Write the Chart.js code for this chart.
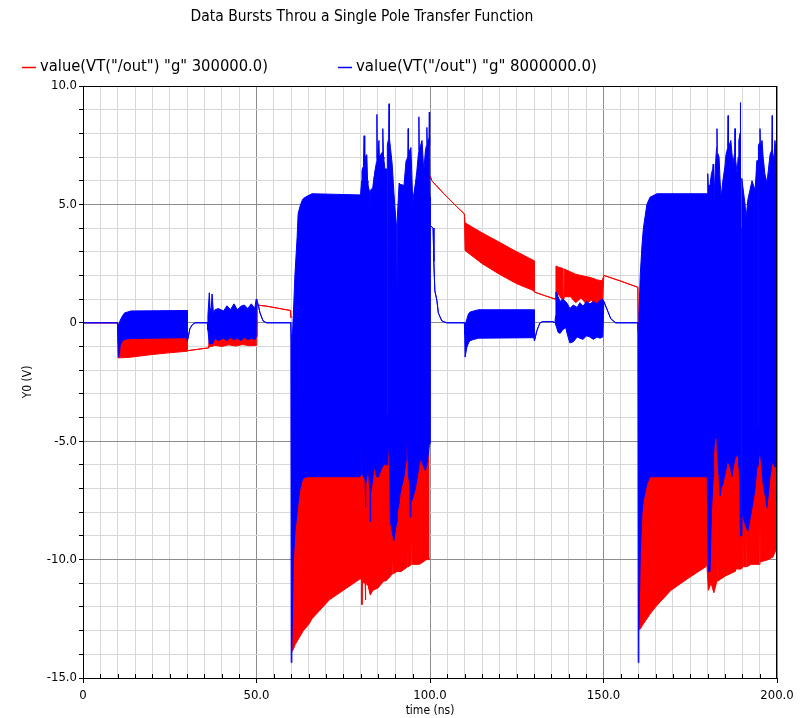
<!DOCTYPE html>
<html><head><meta charset="utf-8">
<script src="https://cdn.jsdelivr.net/npm/chart.js@4.4.1/dist/chart.umd.min.js"></script>
<style>html,body{margin:0;padding:0;background:#fff;}canvas{display:block;}</style>
</head><body>
<canvas id="c" width="806" height="718"></canvas>
<script>
const chartTitle = 'Data Bursts Throu a Single Pole Transfer Function';
const redLabel = 'value(VT("/out") "g" 300000.0)';
const blueLabel = 'value(VT("/out") "g" 8000000.0)';
const xTitle = 'time (ns)';
const yTitle = 'Y0 (V)';
const xTicks = [0, 50, 100, 150, 200];
const xTickLabels = ['0', '50.0', '100.0', '150.0', '200.0'];
const yTicks = [10, 5, 0, -5, -10, -15];
const yTickLabels = ['10.0', '5.0', '0', '-5.0', '-10.0', '-15.0'];

// 8 MHz pole trace: time (ns), upper and lower envelope (V) of the dense oscillation
const blueTime = [
 0, 9.9, 10.0, 10.2, 10.5, 10.7, 11.4, 12.0, 12.9, 13.8, 30.0,
 30.1, 30.4, 30.8, 31.5, 32.3, 35.8,
 36.0, 36.4, 36.6, 36.75, 36.9, 37.2, 37.6, 38.0, 39.0, 40.5, 41.5, 42.5, 43.5, 44.5, 45.5, 46.5, 47.5, 48.5, 49.5, 49.9,
 50.1, 50.6, 51.0, 51.9, 52.9, 59.9,
 60.0, 60.2, 60.6, 61.1, 61.7, 62.0, 62.5, 63.1, 63.5, 64.6, 66.0, 79.8,
 80.0, 80.3, 80.4, 80.5, 80.8, 81.0, 81.2, 81.3, 81.4, 81.5, 81.8, 82.0, 82.1, 82.2, 82.6, 82.7, 82.8, 82.9, 83.5, 83.9, 84.0, 84.6, 84.7, 84.8, 85.3, 85.4, 86.2, 86.4, 86.6, 86.7, 87.0, 87.4, 87.45, 87.65, 87.7, 88.1, 88.2, 88.3, 88.6, 89.1, 89.6, 89.9, 90.4, 90.5, 90.6, 91.1, 91.4, 92.5, 93.1, 93.3, 93.6, 93.7, 93.8, 94.2, 94.3, 94.5, 95.0, 95.1, 95.2, 95.8, 96.2, 96.7, 96.8, 96.9, 97.3, 97.7, 98.2, 98.7, 99.0, 99.1, 99.2, 99.7, 99.8, 99.9, 100.0,
 100.1, 100.9, 101.1, 101.4, 102.0, 102.4, 103.4, 104.8, 109.9,
 110.0, 110.1, 110.6, 111.1, 111.5, 112.6, 114.0, 130.0,
 130.1, 130.8, 131.7, 132.5, 135.4, 136.0,
 136.2, 136.3, 136.9, 137.5, 138.2, 139.1, 139.6, 140.3, 141.3, 142.4, 143.2, 144.1, 145.1, 146.1, 147.1, 148.1, 149.0, 149.8,
 150.1, 151.2, 152.1, 153.5, 159.9,
 160.0, 160.2, 160.6, 161.1, 161.5, 162.5, 163.4, 165.4, 179.9,
 180.0, 180.1, 180.2, 180.7, 181.1, 181.5, 181.6, 181.7, 181.8, 181.9, 182.4, 182.6, 182.7, 182.8, 183.3, 183.6, 183.9, 184.4, 185.0, 185.3, 185.8, 185.9, 186.0, 186.7, 187.0, 187.3, 187.8, 187.9, 188.0, 188.5, 188.8, 189.0, 189.35, 189.45, 189.5, 189.8, 189.85, 190.8, 191.1, 191.6, 192.8, 193.7, 194.2, 194.35, 194.4, 194.6, 194.65, 195.0, 195.1, 195.2, 195.7, 196.0, 196.5, 197.1, 198.0, 198.5, 198.6, 198.7, 199.1, 199.4, 200.0
];
const blueHigh = [
 0, 0, 0, -0.1, 0.0, 0.1, 0.3, 0.42, 0.46, 0.5, 0.52,
 -0.75, -0.55, -0.25, -0.08, 0, 0,
 0.3, 1.27, 0.6, -0.2, 0.5, 1.22, 0.38, 0.55, 0.6, 0.5, 0.72, 0.55, 0.8, 0.55, 0.7, 0.75, 0.6, 0.8, 0.6, 1.0,
 0.95, 0.7, 0.42, 0.08, 0, 0,
 -0.5, -1.0, 0.3, 2.1, 3.6, 4.6, 4.9, 5.15, 5.25, 5.35, 5.45, 5.4,
 5.45, 6.0, 6.4, 6.5, 6.6, 7.9, 6.8, 6.9, 7.0, 7.05, 7.1, 6.0, 5.9, 5.8, 5.5, 4.7, 5.6, 5.6, 5.7, 6.2, 6.3, 6.8, 8.8, 7.0, 7.7, 7.0, 7.2, 8.2, 7.0, 6.9, 6.5, 6.5, -3.85, -3.85, 7.5, 7.8, 9.25, 7.8, 7.4, 6.7, 5.5, 4.85, 4.0, 1.65, 4.5, 5.9, 5.85, 5.8, 6.85, 6.9, 7.0, 8.2, 7.2, 7.3, 7.35, 7.4, 5.2, 4.7, 5.3, 5.9, 6.4, 7.2, 8.7, 7.3, 7.5, 7.7, 6.4, 7.3, 7.5, 8.25, 7.6, 7.8, 8.9, 7.5, 5.3,
 4.1, 4.0, 2.6, 1.35, 0.93, 0.42, 0.08, 0, 0,
 0, -0.1, 0.15, 0.38, 0.45, 0.5, 0.55, 0.55,
 -0.76, -0.33, 0.0, 0.05, 0.05, 0,
 0.3, 1.3, 1.1, 0.9, 1.0, 0.9, 0.8, 0.6, 0.75, 0.65, 0.85, 0.7, 0.9, 0.8, 0.9, 0.8, 0.95, 1.0,
 0.9, 0.5, 0.17, 0, 0,
 -0.45, 0.3, 2.05, 3.3, 4.0, 5.0, 5.3, 5.45, 5.45,
 5.5, 6.3, 5.8, 5.8, 6.3, 6.5, 6.7, 5.5, 4.2, 5.5, 7.0, 7.4, 8.2, 7.2, 7.0, 6.0, 5.3, 6.0, 6.6, 7.1, 7.4, 8.75, 7.4, 7.7, 7.2, 6.7, 7.2, 8.2, 7.0, 6.3, 7.0, 7.7, 8.0, 9.3, -8.8, -8.8, 6.1, 5.0, 4.4, 5.2, 6.0, 5.6, 6.85, 6.85, -4.3, -4.3, 7.5, 7.6, 8.2, 7.5, 7.7, 7.0, 6.3, 5.9, 7.1, 7.3, 8.75, 7.2, 6.9, 7.7, 7.0
];
const blueLow = [
 0, 0, -0.3, -1.45, -1.3, -0.95, -0.75, -0.7, -0.68, -0.66, -0.63,
 -0.75, -0.55, -0.25, -0.08, 0, 0,
 -0.3, -0.9, -0.85, -0.9, -0.85, -0.9, -0.8, -0.65, -0.75, -0.65, -0.75, -0.62, -0.72, -0.65, -0.75, -0.62, -0.72, -0.65, -0.7, -0.6,
 0.95, 0.7, 0.42, 0.08, 0, 0,
 -14.35, -13.6, -10.1, -8.8, -8.0, -7.6, -7.05, -6.7, -6.55, -6.5, -6.5, -6.5,
 -6.46, -6.3, -5.1, -6.4, -6.5, -6.5, -6.6, -6.6, -7.8, -6.8, -6.5, -6.4, -6.4, -6.1, -6.9, -7.0, -8.4, -7.2, -6.6, -6.0, -6.1, -6.5, -6.5, -6.5, -6.5, -6.4, -6.1, -6.0, -6.0, -5.7, -6.0, -6.0, -6.0, -6.0, -5.8, -5.2, -5.0, -6.0, -8.4, -8.8, -9.2, -8.9, -8.4, -8.4, -8.0, -7.6, -7.2, -6.5, -5.8, -4.8, -5.6, -5.8, -6.5, -6.8, -8.2, -7.6, -7.4, -7.4, -7.3, -7.0, -6.6, -6.2, -6.0, -6.0, -5.7, -5.9, -6.1, -6.25, -6.0, -5.8, -5.9, -5.3, -5.1, -5.1, -5.1,
 4.1, 4.0, 2.6, 1.35, 0.93, 0.42, 0.08, 0, 0,
 -0.5, -1.45, -1.05, -0.85, -0.76, -0.7, -0.65, -0.63,
 -0.76, -0.33, 0.0, 0.05, 0.05, 0,
 0, -0.1, -0.4, -0.45, -0.3, -0.2, -0.5, -0.85, -0.8, -0.6, -0.65, -0.7, -0.55, -0.6, -0.7, -0.6, -0.65, -0.6,
 0.9, 0.5, 0.17, 0, 0,
 -14.35, -13.0, -9.7, -8.0, -7.5, -6.8, -6.5, -6.5, -6.5,
 -7.5, -9.0, -10.5, -10.5, -8.0, -6.8, -6.5, -6.0, -5.5, -5.2, -4.7, -4.8, -4.9, -5.5, -6.5, -7.3, -7.0, -6.8, -6.4, -6.2, -5.8, -5.8, -5.9, -6.2, -6.5, -6.2, -5.8, -5.7, -5.7, -5.6, -5.5, -6.0, -6.8, -7.0, -9.0, -9.0, -8.0, -8.5, -8.6, -8.8, -7.8, -7.0, -6.1, -6.1, -6.1, -6.0, -5.8, -5.5, -5.3, -5.5, -6.2, -6.8, -7.2, -7.8, -6.5, -6.0, -5.8, -5.9, -6.0, -6.1, -6.0
];

// 300 kHz pole trace: time (ns), upper and lower envelope (V); null = break in the trace
const redTime = [
 0, 10.0,
 10.1, 10.7, 12.0, 13.8, 19.3, 24.0, 30.0,
 30.1, 33.0, 36.2,
 36.4, 36.75, 37.2, 37.6, 38.0, 40.0, 42.0, 44.0, 46.0, 48.0, 49.9,
 50.1, 53.0, 56.0, 59.8, 59.95,
 60.0,
 60.1, 60.6, 61.1, 61.7, 62.3, 63.5, 65.0, 66.0, 71.0, 76.0,
 80.0, 80.3, 80.4, 80.5, 81.3, 81.4, 81.5, 82.1, 82.2, 82.3, 82.8, 83.5, 85.0, 86.7, 87.1, 87.2, 87.3, 88.0, 89.2, 89.3, 89.4, 90.5, 91.7, 93.6, 93.7, 93.8, 94.7, 94.8, 94.9, 97.0, 99.0, 99.5, 99.6, 99.7, 99.9,
 100.0,
 100.1, 100.5, 104.0, 108.0, 109.9,
 110.1, 115.0, 120.0, 125.0, 130.0,
 130.1, 133.0, 136.1,
 136.3, 137.0, 138.2, 138.3, 138.6, 138.7, 140.5, 142.0, 143.5, 145.0, 146.5, 148.0, 149.6,
 150.1, 154.8, 159.9, 160.0,
 160.05,
 160.1, 160.5, 161.1, 162.5, 163.4, 165.0, 169.4, 174.3, 179.5, 179.8,
 180.2, 181.0, 181.8, 182.7, 182.9, 183.0, 183.1, 183.9, 184.0, 184.1, 185.0, 186.5, 187.9, 188.0, 188.1, 189.5, 189.65, 189.8, 190.3, 190.4, 190.5, 191.2, 191.3, 191.4, 192.5, 192.6, 192.7, 195.0, 195.1, 195.2, 197.5, 198.6, 198.7, 198.8, 199.7, 200.0
];
const redHigh = [
 0, 0,
 -0.9, -0.75, -0.6, -0.6, -0.6, -0.6, -0.6,
 -1.18, -1.12, -1.06,
 -0.6, 0.4, -0.2, -0.55, -0.55, -0.55, -0.5, -0.55, -0.5, -0.55, -0.55,
 0.75, 0.7, 0.62, 0.52, 0.2,
 null,
 -13.5, -9.8, -8.6, -7.8, -7.0, -6.3, -6.0, -6.0, -6.0, -6.0,
 -5.0, -4.5, -4.5, -4.5, -4.5, -4.5, -4.5, -4.5, -4.5, -4.5, -4.5, -4.5, -4.5, -4.5, -4.5, -4.5, -4.5, -4.5, -4.5, -4.5, -4.5, -4.5, -4.5, -4.5, -4.5, -4.5, -4.5, -4.5, -4.5, -4.5, -4.5, -4.5, -4.5, -4.5, -4.5,
 null,
 6.2, 6.0, 5.45, 4.86, 4.6,
 4.22, 3.8, 3.4, 3.0, 2.62,
 1.3, 1.15, 1.0,
 2.4, 2.35, 2.3, 1.1, 1.1, 2.27, 2.15, 2.05, 2.0, 1.95, 1.9, 1.82, 1.77,
 2.0, 1.77, 1.5, -0.3,
 null,
 -12.0, -9.5, -7.8, -6.7, -6.2, -6.0, -6.0, -6.0, -6.0, -6.0,
 -4.5, -4.5, -4.5, -4.5, -4.5, -4.5, -4.5, -4.5, -4.5, -4.5, -4.5, -4.5, -4.5, -4.5, -4.5, -4.5, 4.0, -4.5, -4.5, -4.5, -4.5, -4.5, -4.5, -4.5, -4.5, -4.5, -4.5, -4.5, -4.5, -4.5, -4.5, -4.5, -4.5, -4.5, -4.5, -4.5
];
const redLow = [
 0, 0,
 -1.48, -1.48, -1.47, -1.45, -1.35, -1.28, -1.2,
 -1.18, -1.12, -1.06,
 -1.02, -1.0, -1.0, -0.97, -0.95, -1.0, -0.93, -0.98, -0.92, -0.97, -0.95,
 0.75, 0.7, 0.62, 0.52, 0.2,
 null,
 -13.9, -13.8, -13.6, -13.45, -13.3, -13.0, -12.75, -12.5, -11.7, -11.2,
 -10.8, -10.9, -11.9, -10.95, -11.0, -11.7, -11.0, -11.1, -10.3, -11.2, -11.5, -11.3, -11.2, -10.9, -10.9, -9.7, -10.9, -10.8, -10.6, -9.9, -10.6, -10.5, -10.5, -10.3, -9.1, -10.3, -10.2, -9.1, -10.2, -10.2, -10.0, -10.0, -9.9, -10.0, -10.0,
 null,
 6.2, 6.0, 5.45, 4.86, 4.6,
 3.05, 2.5, 2.05, 1.65, 1.35,
 1.3, 1.15, 1.0,
 1.0, 1.2, 0.95, 0.95, 1.0, 1.1, 1.1, 0.85, 1.05, 0.8, 0.95, 0.75, 0.85,
 2.0, 1.77, 1.5, -0.3,
 null,
 -12.9, -12.95, -12.8, -12.5, -12.3, -12.0, -11.3, -10.8, -10.3, -10.2,
 -11.3, -11.0, -11.4, -10.9, -10.9, -9.8, -10.9, -10.8, -9.9, -10.8, -10.7, -10.6, -10.5, -9.1, -10.4, -10.4, -10.4, -10.4, -10.3, -9.0, -10.3, -10.3, -8.7, -10.3, -10.2, -8.5, -10.2, -10.2, -8.5, -10.1, -10.0, -9.9, -8.2, -9.9, -9.6, -9.6
];

const RED = '#ff0000';
const BLUE = '#0000ff';
const FONT = '"DejaVu Sans Condensed", "DejaVu Sans", sans-serif';

function pts(t, v) { return t.map((x, i) => ({x: x, y: v[i]})); }

const lineBase = {borderWidth: 1, pointRadius: 0, tension: 0, spanGaps: false};
const datasets = [
  Object.assign({label: blueLabel, data: pts(blueTime, blueHigh), borderColor: BLUE, backgroundColor: BLUE, fill: '+1'}, lineBase),
  Object.assign({label: '', data: pts(blueTime, blueLow), borderColor: BLUE, backgroundColor: BLUE, fill: false}, lineBase),
  Object.assign({label: redLabel, data: pts(redTime, redHigh), borderColor: RED, backgroundColor: RED, fill: '+1'}, lineBase),
  Object.assign({label: '', data: pts(redTime, redLow), borderColor: RED, backgroundColor: RED, fill: false}, lineBase)
];

function fitFont(ctx, text, target, base, fam) {
  ctx.font = base + 'px ' + fam;
  const w = ctx.measureText(text).width;
  const s = base * target / w;
  return s.toFixed(2) + 'px ' + fam;
}

const decor = {
  id: 'decor',
  afterDraw(chart) {
    const {ctx, chartArea: a, scales} = chart;
    const xs = scales.x;
    ctx.save();
    ctx.strokeStyle = '#000';
    ctx.lineWidth = 1;
    ctx.strokeRect(a.left + 0.5, a.top + 0.5, a.right - a.left - 1, a.bottom - a.top);
    xs.ticks.forEach(t => {
      if (!xTicks.includes(t.value)) {
        const px = Math.round(xs.getPixelForValue(t.value)) + 0.5;
        ctx.beginPath(); ctx.moveTo(px, a.bottom); ctx.lineTo(px, a.bottom - 4); ctx.stroke();
      }
    });
    ctx.fillStyle = '#000';
    ctx.textBaseline = 'middle';
    ctx.textAlign = 'center';
    ctx.font = fitFont(ctx, chartTitle, 343, 12, FONT);
    ctx.fillText(chartTitle, 362, 17);
    const items = [
      {ds: chart.data.datasets[2], x: 22, w: 228},
      {ds: chart.data.datasets[0], x: 338, w: 241}
    ];
    items.forEach(it => {
      ctx.strokeStyle = it.ds.borderColor;
      ctx.lineWidth = 1.5;
      ctx.beginPath(); ctx.moveTo(it.x, 67.5); ctx.lineTo(it.x + 14, 67.5); ctx.stroke();
      ctx.textAlign = 'left';
      ctx.font = fitFont(ctx, it.ds.label, it.w, 12, FONT);
      ctx.fillText(it.ds.label, it.x + 18, 67);
    });
    ctx.restore();
  }
};

new Chart(document.getElementById('c'), {
  type: 'line',
  data: {datasets: datasets},
  options: {
    responsive: false,
    animation: false,
    devicePixelRatio: 1,
    events: [],
    layout: {padding: {top: 86, right: 29, left: 0, bottom: 0}},
    plugins: {legend: {display: false}, title: {display: false}, tooltip: {enabled: false}},
    scales: {
      x: {
        type: 'linear', min: 0, max: 200,
        afterFit: s => { s.height = 40; },
        ticks: {
          stepSize: 5, autoSkip: false, maxRotation: 0, padding: 5, color: '#000',
          font: {family: FONT, size: 13},
          callback: v => { const i = xTicks.indexOf(v); return i >= 0 ? xTickLabels[i] : ''; }
        },
        grid: {
          color: c => (c.tick && xTicks.includes(c.tick.value)) ? '#8c8c8c' : '#d8d8d8',
          tickColor: c => (c.tick && xTicks.includes(c.tick.value)) ? '#000' : 'rgba(0,0,0,0)',
          tickLength: 5
        },
        border: {color: '#000'},
        title: {display: true, text: xTitle, color: '#000', font: {family: FONT, size: 12}, padding: {top: 0, bottom: 0}}
      },
      y: {
        type: 'linear', min: -15, max: 10,
        afterFit: s => { s.width = 83; },
        ticks: {
          stepSize: 1, autoSkip: false, padding: 2, color: '#000',
          font: {family: FONT, size: 13},
          callback: v => { const i = yTicks.indexOf(v); return i >= 0 ? yTickLabels[i] : ''; }
        },
        grid: {
          color: c => (c.tick && yTicks.includes(c.tick.value)) ? '#8c8c8c' : '#d8d8d8',
          tickColor: '#000',
          tickLength: 4
        },
        border: {color: '#000'},
        title: {display: true, text: yTitle, color: '#000', font: {family: FONT, size: 12}, padding: {top: 21, bottom: 0}}
      }
    }
  },
  plugins: [decor]
});
</script>
</body></html>
